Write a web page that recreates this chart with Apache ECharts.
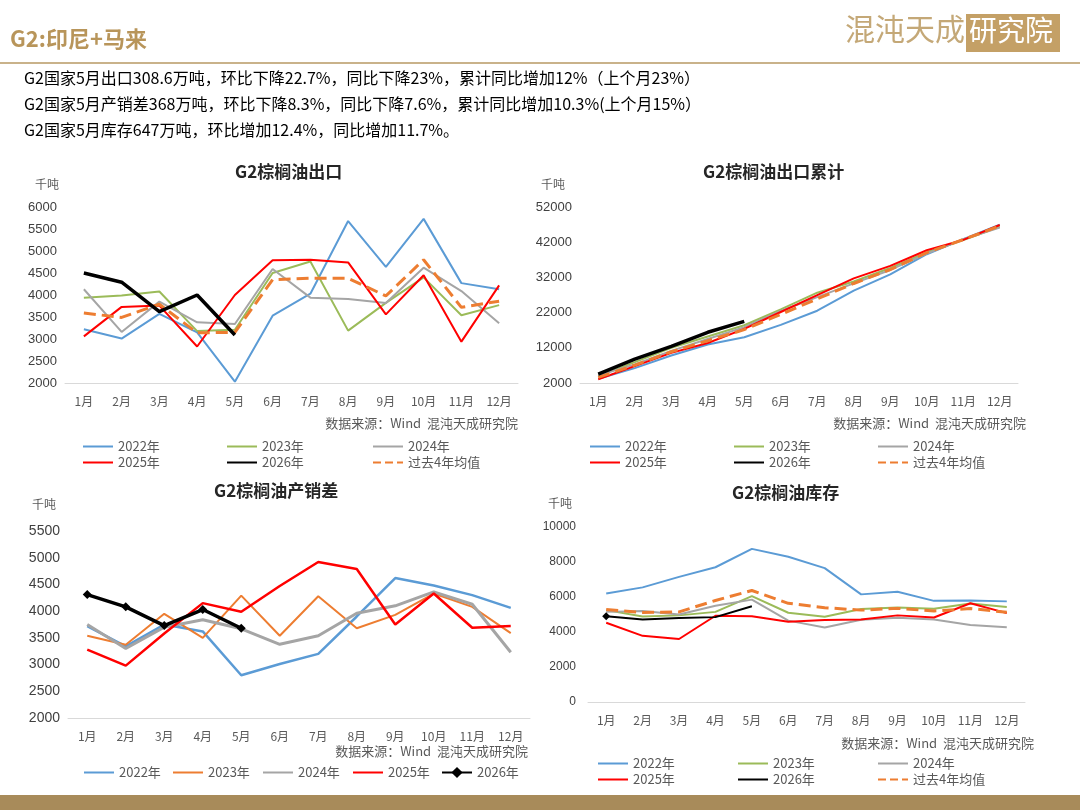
<!DOCTYPE html>
<html><head><meta charset="utf-8">
<script src="https://cdn.jsdelivr.net/npm/echarts@6/dist/echarts.min.js"></script>
<style>html,body{margin:0;padding:0;background:#fff}#c{width:1080px;height:810px}</style>
</head><body><div id="c"></div>
<script>
const months = ['1月','2月','3月','4月','5月','6月','7月','8月','9月','10月','11月','12月'];
// 出口
const exp2022 = [3220,3010,3570,3150,2030,3530,4030,5680,4640,5730,4270,4130];
const exp2023 = [3940,3990,4080,3180,3210,4500,4760,3190,3820,4400,3540,3770];
const exp2024 = [4130,3160,3850,3380,3340,4590,3940,3910,3820,4620,4090,3360];
const exp2025 = [3060,3730,3760,2830,4000,4790,4800,4740,3560,4450,2940,4220];
const exp2026 = [4500,4290,3620,4000,3090];
const expAvg = [3590,3490,3790,3140,3150,4350,4380,4380,3980,4800,3720,3860];
// 出口累计
const cum2022 = [3220,6230,9800,12950,14980,18500,22540,28220,32860,38590,42860,46990];
const cum2023 = [3940,7930,12010,15190,18400,22900,27660,30850,34670,39070,42610,46380];
const cum2024 = [4130,7290,11140,14520,17860,22450,26390,30300,34120,38740,42830,46190];
const cum2025 = [3060,6790,10550,13380,17380,22170,26970,31710,35270,39720,42660,46880];
const cum2026 = [4500,8790,12410,16410,19500];
const cumAvg = [3590,7060,10880,14010,17160,21500,25890,30270,34230,39030,42740,46610];
// 产销差
const ps2022 = [3720,3340,3750,3620,2800,3010,3200,3900,4620,4480,4300,4060];
const ps2023 = [3540,3370,3950,3500,4290,3540,4280,3680,3930,4330,4080,3590];
const ps2024 = [3750,3300,3700,3840,3670,3380,3540,3960,4100,4360,4130,3230];
const ps2025 = [3280,2980,3580,4150,3990,4470,4920,4790,3750,4330,3690,3720];
const ps2026 = [4310,4080,3730,4030,3680];
// 库存
const inv2022 = [6200,6550,7150,7700,8750,8300,7650,6150,6300,5780,5800,5750];
const inv2023 = [5250,4880,4950,5150,6050,5100,4870,5320,5400,5330,5630,5430];
const inv2024 = [5150,5200,5000,5500,5850,4650,4260,4700,4820,4720,4400,4270];
const inv2025 = [4530,3780,3600,4930,4900,4580,4680,4720,4950,4830,5640,5080];
const inv2026 = [4900,4720,4800,4850,5470];
const invAvg = [5280,5120,5150,5800,6370,5640,5390,5250,5350,5200,5340,5130];

const FONT = '"Noto Sans CJK SC", sans-serif';
const C = {b:'#5B9BD5',g:'#9BBB59',gr:'#A5A5A5',r:'#FF0000',k:'#000000',o:'#ED7D31'};
const grids=[],xAxes=[],yAxes=[],series=[],legends=[],graphics=[];

function panel(p){
  const i = grids.length;
  grids.push({left:p.l, top:p.t, width:p.w, height:p.h});
  xAxes.push({type:'category', gridIndex:i, data:months, boundaryGap:true,
    axisLine:{lineStyle:{color:'#D9D9D9'}}, axisTick:{show:false},
    axisLabel:{color:'#595959', fontSize:12, fontFamily:FONT, margin:p.lm||12}});
  yAxes.push({type:'value', gridIndex:i, min:p.min, max:p.max, interval:p.iv,
    axisLine:{show:false}, axisTick:{show:false}, splitLine:{show:false},
    axisLabel:{color:'#404040', fontSize:p.yfs||13, fontFamily:'Arial', margin:p.ym||8, formatter:v=>String(v)}});
  p.s.forEach(s=>{
    const o = {type:'line', name:s.n+'#'+i, xAxisIndex:i, yAxisIndex:i, data:s.d,
      symbol:s.sym||'none', symbolSize:s.ss||6, showSymbol:!!s.sym, silent:true,
      lineStyle:{color:s.c, width:s.w||2, type:s.dash?'dashed':'solid'},
      itemStyle:{color:s.c}, z:s.z||2};
    series.push(o);
  });
  p.leg.forEach((L,k)=>{
    const s = p.s[k];
    const leg = {left:L[0], top:L[1], data:[s.n+'#'+i], selectedMode:false,
      itemWidth:30, itemHeight:14, padding:0,
      formatter:n=>n.split('#')[0],
      textStyle:{color:'#595959', fontSize:13, fontFamily:FONT}};
    if(!s.legSym) leg.itemStyle = {opacity:0};
    legends.push(leg);
  });
  graphics.push({type:'text', left:p.tx, top:p.ty, style:{text:p.title, font:'bold 17px '+FONT, fill:'#262626'}});
  graphics.push({type:'text', left:p.ux, top:p.uy, style:{text:'千吨', font:'12px '+FONT, fill:'#595959'}});
  graphics.push({type:'text', right:p.srcR, top:p.srcY, style:{text:'数据来源：Wind  混沌天成研究院', font:'13px '+FONT, fill:'#595959'}});
}

const six = (a,b,c,d,e,f)=>[
  {n:'2022年',d:a,c:C.b},{n:'2023年',d:b,c:C.g},{n:'2024年',d:c,c:C.gr},
  {n:'2025年',d:d,c:C.r},{n:'2026年',d:e,c:C.k,w:3.5,z:5},{n:'过去4年均值',d:f,c:C.o,w:3,dash:true,z:4}];

panel({l:65,t:207,w:453,h:176,min:2000,max:6000,iv:500,title:'G2棕榈油出口',tx:235,ty:163,ux:35,uy:178,
  srcR:562,srcY:417,s:six(exp2022,exp2023,exp2024,exp2025,exp2026,expAvg),
  leg:[[82,440],[226,440],[372,440],[82,456],[226,456],[372,456]]});
panel({l:580,t:207,w:438,h:176,min:2000,max:52000,iv:10000,title:'G2棕榈油出口累计',tx:703,ty:163,ux:541,uy:178,
  srcR:54,srcY:417,s:six(cum2022,cum2023,cum2024,cum2025,cum2026,cumAvg),
  leg:[[589,440],[733,440],[877,440],[589,456],[733,456],[877,456]]});
panel({l:68,t:531,w:462,h:187,min:2000,max:5500,iv:500,title:'G2棕榈油产销差',tx:214,ty:482,ux:32,uy:498,yfs:14,lm:12,
  srcR:552,srcY:745,s:[{n:'2022年',d:ps2022,c:C.b,w:2.5},{n:'2023年',d:ps2023,c:C.o},{n:'2024年',d:ps2024,c:C.gr,w:3},
    {n:'2025年',d:ps2025,c:C.r,w:2.5},{n:'2026年',d:ps2026,c:C.k,w:3.5,sym:'diamond',ss:9,z:5,legSym:true}],
  leg:[[83,766],[172,766],[262,766],[352,766],[441,766]]});
panel({l:588,t:527,w:437,h:175,min:0,max:10000,iv:2000,title:'G2棕榈油库存',tx:732,ty:484,ux:548,uy:497,yfs:12,ym:12,
  srcR:46,srcY:737,s:[{n:'2022年',d:inv2022,c:C.b},{n:'2023年',d:inv2023,c:C.g},{n:'2024年',d:inv2024,c:C.gr},
    {n:'2025年',d:inv2025,c:C.r},{n:'2026年',d:inv2026,c:C.k,sym:'diamond',ss:8,z:5},{n:'过去4年均值',d:invAvg,c:C.o,w:3,dash:true,z:4}],
  leg:[[597,757],[737,757],[877,757],[597,773],[737,773],[877,773]]});
// keep only first-point marker for 2026 in inventory chart
series[series.length-2].data = inv2026.map((v,k)=>k===0?v:{value:v,symbol:'none'});

// header
graphics.push(
  {type:'text', left:10, top:28, style:{text:'G2:印尼+马来', font:'bold 22px '+FONT, fill:'#B8955A'}},
  {type:'rect', shape:{x:0,y:62,width:1080,height:2}, style:{fill:'#C9B28A'}},
  {type:'text', left:845, top:14, style:{text:'混沌天成', font:'30px '+FONT, fill:'#C4A877'}},
  {type:'rect', shape:{x:966,y:14,width:94,height:38}, style:{fill:'#C4A066'}},
  {type:'text', left:969, top:16, style:{text:'研究院', font:'28px '+FONT, fill:'#FFFFFF'}},
  {type:'text', left:24, top:70, style:{text:'G2国家5月出口308.6万吨，环比下降22.7%，同比下降23%，累计同比增加12%（上个月23%）', font:'16px '+FONT, fill:'#000'}},
  {type:'text', left:24, top:96, style:{text:'G2国家5月产销差368万吨，环比下降8.3%，同比下降7.6%，累计同比增加10.3%(上个月15%）', font:'16px '+FONT, fill:'#000'}},
  {type:'text', left:24, top:122, style:{text:'G2国家5月库存647万吨，环比增加12.4%，同比增加11.7%。', font:'16px '+FONT, fill:'#000'}},
  {type:'rect', shape:{x:0,y:795,width:1080,height:15}, style:{fill:'#A88B5A'}}
);

const chart = echarts.init(document.getElementById('c'));
chart.setOption({animation:false, grid:grids, xAxis:xAxes, yAxis:yAxes, series, legend:legends, graphic:graphics});
</script></body></html>
